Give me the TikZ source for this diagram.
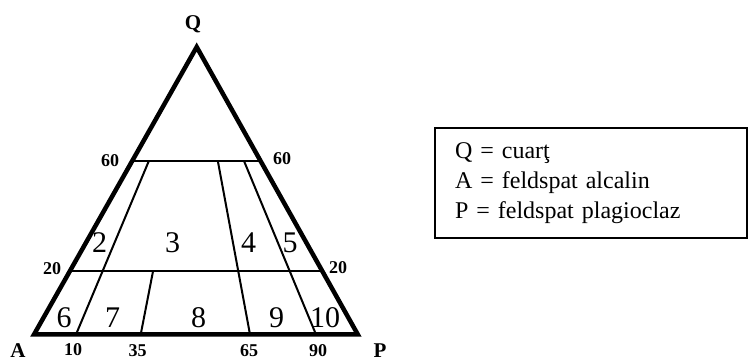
\documentclass[tikz,border=0pt]{standalone}
\usepackage{fontspec}
\setmainfont{Liberation Serif}
\usepackage{tikz}
\usetikzlibrary{calc}
\tikzset{
  ticklbl/.style={font=\fontsize{9}{10}\selectfont\bfseries,inner sep=0pt},
  fieldnum/.style={font=\fontsize{15}{16}\selectfont,inner sep=0pt},
  vertexlbl/.style={font=\fontsize{10.5}{12}\selectfont\bfseries,inner sep=0pt},
  divline/.style={line width=1pt},
}

\begin{document}
\begin{tikzpicture}[x=0.5pt,y=0.5pt]
  \useasboundingbox (0,0) rectangle (748,362);

  % corners of the triangle
  \coordinate (A) at (34,27.5);
  \coordinate (P) at (357.8,27.5);
  \coordinate (Q) at (196.7,315);

  % levels 60 and 20
  \coordinate (l60) at ($(A)!0.6045!(Q)$);
  \coordinate (r60) at ($(P)!0.6045!(Q)$);
  \coordinate (l20) at ($(A)!0.222!(Q)$);
  \coordinate (r20) at ($(P)!0.222!(Q)$);
  \draw[divline] (l60) -- (r60);
  \draw[divline] (l20) -- (r20);

  % feet on A-P, lines towards Q
  \coordinate (b10) at (76,27.5);
  \coordinate (b35) at (140.7,27.5);
  \coordinate (b65) at (250,27.5);
  \coordinate (b90) at (316,27.5);
  \draw[divline] (b10) -- ($(b10)!0.6045!(Q)$);
  \draw[divline] (b35) -- ($(b35)!0.222!(Q)$);
  \draw[divline] (b65) -- ($(b65)!0.6045!(Q)$);
  \draw[divline] (b90) -- ($(b90)!0.6045!(Q)$);

  \draw[line width=2.25pt] (A) -- (P) -- (Q) -- cycle;

  % corner labels
  \node[vertexlbl] (nq) at (193,338) {Q};
  \node[vertexlbl] (na) at (18,11) {A};
  \node[vertexlbl] (np) at (380,11) {P};

  % scale values
  \node[ticklbl] (t60l) at (110,201) {60};
  \node[ticklbl] (t60r) at (282,203) {60};
  \node[ticklbl] (t20l) at (52,93) {20};
  \node[ticklbl] (t20r) at (338,94) {20};
  \node[ticklbl] (t10) at (73,12) {10};
  \node[ticklbl] (t35) at (137.5,11) {35};
  \node[ticklbl] (t65) at (249,11) {65};
  \node[ticklbl] (t90) at (318,11) {90};

  % fields
  \node[fieldnum] (f2) at (99.5,119) {2};
  \node[fieldnum] (f3) at (172.5,119) {3};
  \node[fieldnum] (f4) at (248.5,119) {4};
  \node[fieldnum] (f5) at (290,119) {5};
  \node[fieldnum] (f6) at (64,44.5) {6};
  \node[fieldnum] (f7) at (112.5,44.5) {7};
  \node[fieldnum] (f8) at (198.5,44.5) {8};
  \node[fieldnum] (f9) at (276.5,44.5) {9};
  \node[fieldnum] (f10) at (325,44.5) {10};

  % legend
  \node[draw,line width=0.9pt,minimum width=156pt,minimum height=55pt,
        text width=136pt,inner xsep=10pt,align=left,
        font=\fontsize{12}{15}\selectfont] (legend) at (591,179)
    {Q = cuarţ\\A = feldspat alcalin\\P = feldspat plagioclaz};
\end{tikzpicture}
\end{document}
